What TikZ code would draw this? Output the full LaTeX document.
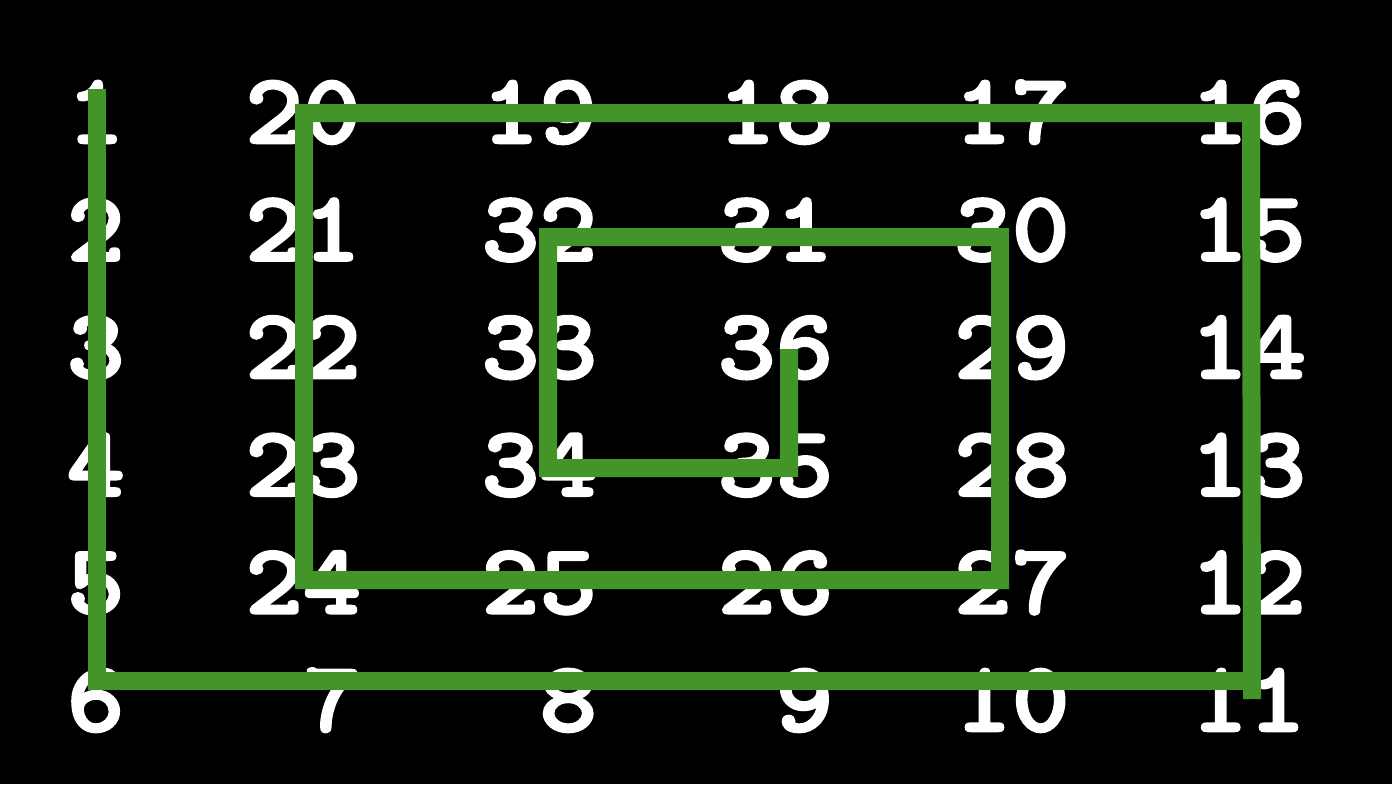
\documentclass[tikz,border=0pt]{standalone}
\usepackage{fontspec}
\newfontfamily\numfont{lmmonolt10-bold.otf}[FakeStretch=1.1, FakeBold=2.5]
\definecolor{spiralgreen}{RGB}{67,148,41}
\tikzset{
  num/.style={font=\numfont\fontsize{50}{50}\selectfont, text=white, inner sep=0pt, anchor=base east},
  spiral/.style={draw=spiralgreen, line width=9pt, line join=miter, line cap=butt}
}
\begin{document}
\begin{tikzpicture}[x=0.5pt, y=-0.5pt]
  \fill[black] (0,0) rectangle (1392,784);
  \useasboundingbox (0,0) rectangle (1392,784);

  % numbers, row by row
  \foreach \row [count=\r] in {{1,20,19,18,17,16},{2,21,32,31,30,15},{3,22,33,36,29,14},
                              {4,23,34,35,28,13},{5,24,25,26,27,12},{6,7,8,9,10,11}}
    \foreach \v [count=\c] in \row
      \node[num] (n\v) at ({236.25*\c-111.25}, {117.6*\r+25.4}) {\v};

  % turning points of the spiral
  \coordinate (s1)  at (97,89);
  \coordinate (s6)  at (97,681);
  \coordinate (s11) at (1252,681);
  \coordinate (s11b) at (1252,699);
  \coordinate (s16) at (1251,113);
  \coordinate (s20) at (304,113);
  \coordinate (s24) at (304,580);
  \coordinate (s27) at (1000,580);
  \coordinate (s30) at (1000,237);
  \coordinate (s32) at (548,237);
  \coordinate (s34) at (548,468);
  \coordinate (s35) at (789,468);
  \coordinate (s36) at (789,349);

  % the spiral
  \draw[spiral] (s1) -- (s6) -- (s11);
  \draw[spiral] (s11b) -- (s16) -- (s20) -- (s24) -- (s27) -- (s30) -- (s32) -- (s34) -- (s35) -- (s36);
\end{tikzpicture}
\end{document}
